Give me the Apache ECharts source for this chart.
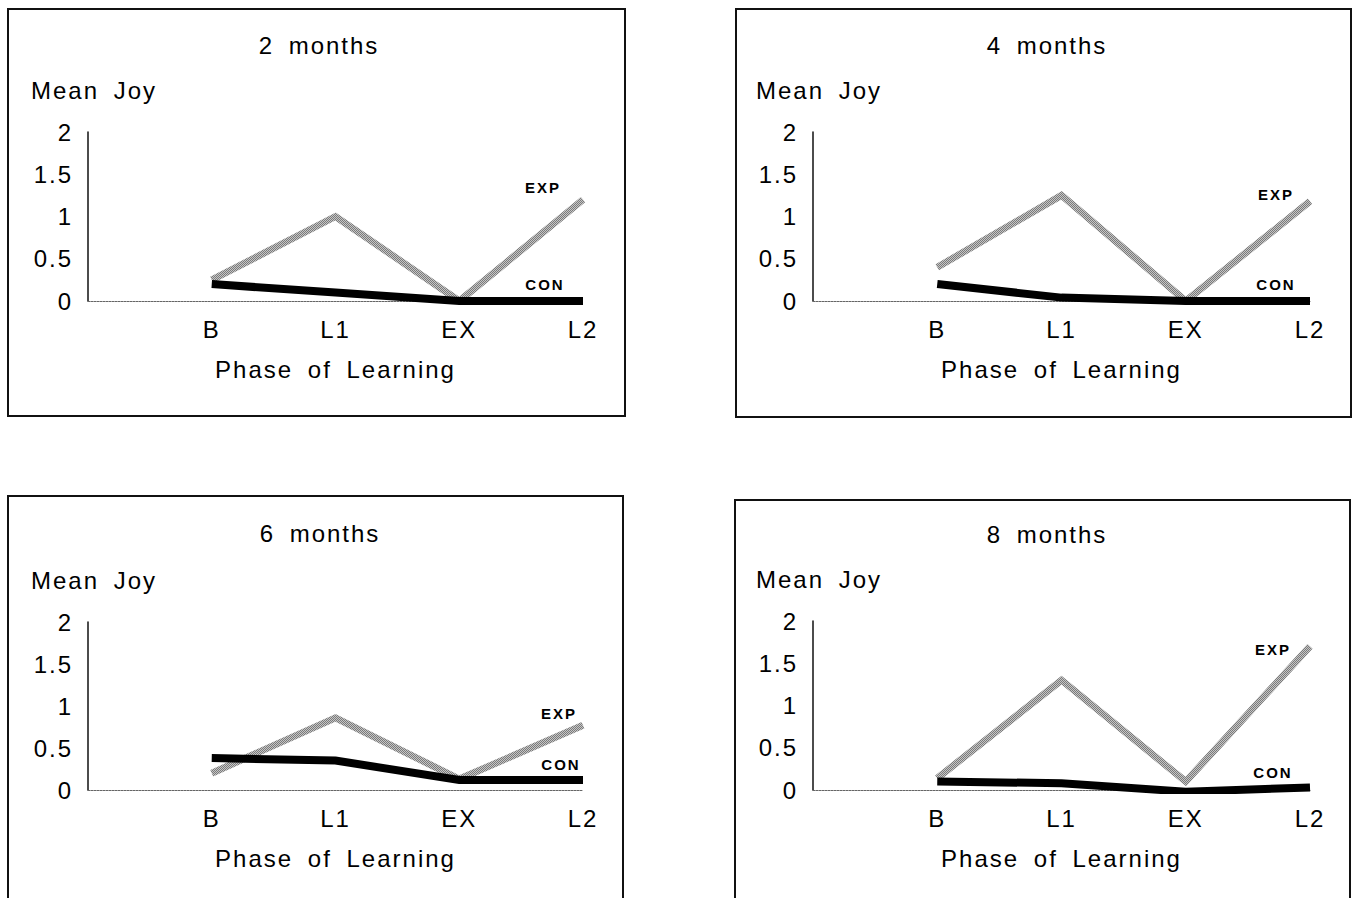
<!DOCTYPE html>
<html>
<head>
<meta charset="utf-8">
<script src="https://cdn.jsdelivr.net/npm/echarts@6/dist/echarts.min.js"></script>
<style>
  html, body { margin: 0; padding: 0; background: #fff; }
  #chart { width: 1357px; height: 898px; }
  #chart text { letter-spacing: 2px; word-spacing: 6px; }
</style>
</head>
<body>
<div id="chart"></div>
<script>
// ---- data ----
const categories = ['', 'B', 'L1', 'EX', 'L2'];
const panelTitles = ['2 months', '4 months', '6 months', '8 months'];
const seriesNames = ['EXP', 'CON'];
const yTickValues = [0, 0.5, 1, 1.5, 2];
const yAxisTitle = 'Mean Joy';
const xAxisTitle = 'Phase of Learning';

const exp2months = [null, 0.25, 1.0, 0.0, 1.2];
const con2months = [null, 0.2, 0.1, 0.0, 0.0];
const exp4months = [null, 0.4, 1.25, 0.0, 1.18];
const con4months = [null, 0.2, 0.04, 0.0, 0.0];
const exp6months = [null, 0.2, 0.86, 0.13, 0.77];
const con6months = [null, 0.38, 0.35, 0.12, 0.12];
const exp8months = [null, 0.14, 1.3, 0.1, 1.7];
const con8months = [null, 0.1, 0.08, -0.02, 0.03];

const expData = [exp2months, exp4months, exp6months, exp8months];
const conData = [con2months, con4months, con6months, con8months];

// ---- layout (positions / styles only) ----
const grids = [
  { left: 88, top: 132, width: 495, height: 169 },
  { left: 813, top: 132, width: 497, height: 169 },
  { left: 88, top: 622, width: 495, height: 168 },
  { left: 813, top: 621, width: 497, height: 169 }
];
const boxes = [
  { x: 8, y: 9, w: 617, h: 407 },
  { x: 736, y: 9, w: 615, h: 408 },
  { x: 8, y: 496, w: 615, h: 420 },
  { x: 735, y: 500, w: 615, h: 420 }
];
const titlePos = [
  { left: 314, top: 28 },
  { left: 1042, top: 28 },
  { left: 315, top: 516 },
  { left: 1042, top: 517 }
];
const expLabelOffset = [[-40, -12], [-34, -7], [-24, -12], [-37, 3]];
const conLabelOffset = [[-38, -17], [-34, -17], [-22, -15], [-37, -15]];

const FONT = "'Liberation Sans', Arial, sans-serif";
const TXT = '#000';

// hatched grey texture for EXP lines
function hatch() {
  const c = document.createElement('canvas');
  c.width = 2; c.height = 2;
  const g = c.getContext('2d');
  g.fillStyle = '#c6c6c6';
  g.fillRect(0, 0, 2, 2);
  g.fillStyle = '#7a7a7a';
  g.fillRect(0, 0, 1, 1);
  g.fillRect(1, 1, 1, 1);
  return { image: c, repeat: 'repeat' };
}
const expColor = hatch();

const option = {
  animation: false,
  backgroundColor: '#fff',
  title: panelTitles.map((t, i) => ({
    text: t,
    left: titlePos[i].left,
    top: titlePos[i].top,
    textAlign: 'center',
    textStyle: { fontFamily: FONT, fontSize: 24, fontWeight: 'normal', color: TXT }
  })),
  grid: grids.map(g => Object.assign({ containLabel: false }, g)),
  xAxis: grids.map((g, i) => ({
    type: 'category',
    gridIndex: i,
    data: categories,
    boundaryGap: false,
    axisLine: { show: true, lineStyle: { color: '#666', width: 1, type: [2, 1] } },
    axisTick: { show: false },
    splitLine: { show: false },
    axisLabel: { fontFamily: FONT, fontSize: 24, color: TXT, margin: 16, interval: 0 },
    name: xAxisTitle,
    nameLocation: 'middle',
    nameGap: 56,
    nameTextStyle: { fontFamily: FONT, fontSize: 24, color: TXT }
  })),
  yAxis: grids.map((g, i) => ({
    type: 'value',
    gridIndex: i,
    min: yTickValues[0],
    max: yTickValues[yTickValues.length - 1],
    interval: yTickValues[1] - yTickValues[0],
    axisLine: { show: true, onZero: false, lineStyle: { color: '#111', width: 1.5 } },
    axisTick: { show: false },
    splitLine: { show: false },
    axisLabel: { fontFamily: FONT, fontSize: 24, color: TXT, margin: 15 },
    name: yAxisTitle,
    nameLocation: 'end',
    nameGap: 30,
    nameTextStyle: { fontFamily: FONT, fontSize: 24, color: TXT, align: 'center', padding: [0, 0, 0, 12] }
  })),
  series: [],
  graphic: boxes.map(b => ({
    type: 'rect',
    shape: { x: b.x, y: b.y, width: b.w, height: b.h },
    style: { fill: 'none', stroke: '#111', lineWidth: 2 },
    silent: true,
    z: 0
  }))
};

function endLbl(name, offset) {
  return {
    show: true,
    formatter: name,
    distance: 0,
    offset: offset,
    align: 'center',
    verticalAlign: 'middle',
    fontFamily: FONT,
    fontSize: 15,
    fontWeight: 'bold',
    color: TXT
  };
}

for (let i = 0; i < 4; i++) {
  option.series.push({
    name: seriesNames[0],
    type: 'line',
    xAxisIndex: i,
    yAxisIndex: i,
    data: expData[i],
    showSymbol: false,
    symbol: 'none',
    lineStyle: { color: expColor, width: 7, cap: 'butt', join: 'miter' },
    endLabel: endLbl(seriesNames[0], expLabelOffset[i]),
    z: 2
  });
  option.series.push({
    name: seriesNames[1],
    type: 'line',
    xAxisIndex: i,
    yAxisIndex: i,
    data: conData[i],
    showSymbol: false,
    symbol: 'none',
    lineStyle: { color: '#000', width: 8, cap: 'butt', join: 'miter' },
    endLabel: endLbl(seriesNames[1], conLabelOffset[i]),
    z: 3
  });
}

const chart = echarts.init(document.getElementById('chart'), null, { renderer: 'svg' });
chart.setOption(option);
</script>
</body>
</html>
